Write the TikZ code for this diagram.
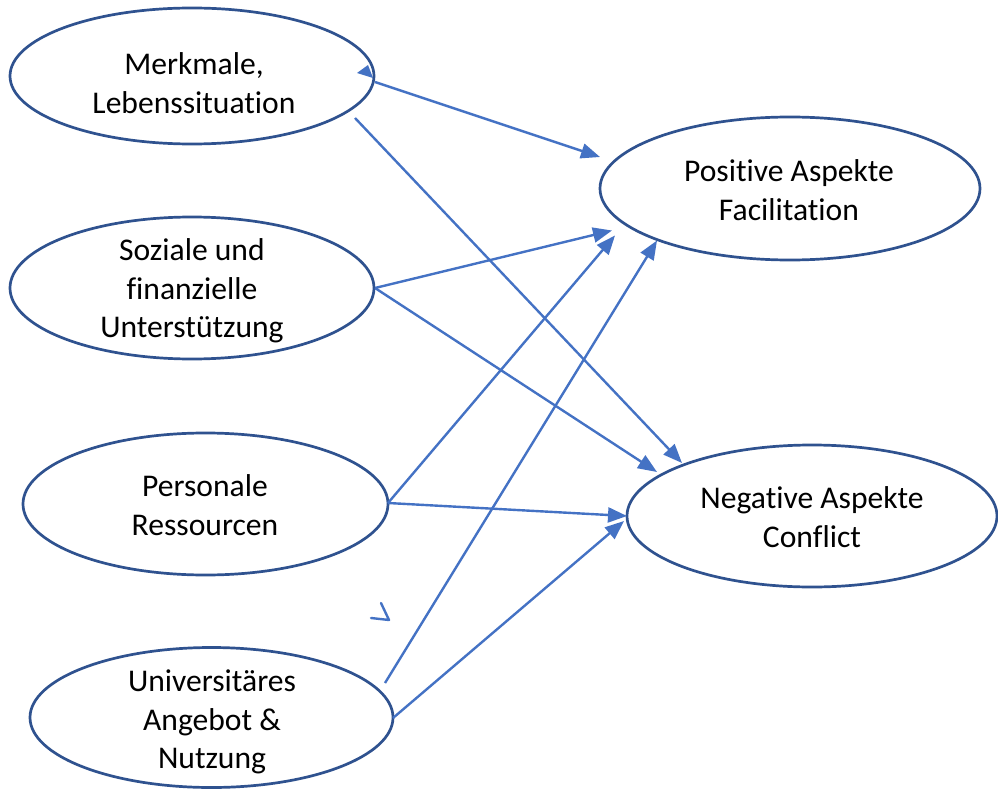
\documentclass[tikz,border=0pt]{standalone}
\usepackage{fontspec}
\setmainfont{Carlito}[RawFeature={-liga;-clig;-calt;-dlig;-rlig}]
\usetikzlibrary{shapes.geometric,arrows.meta}
\definecolor{ringblue}{HTML}{2F528F}
\definecolor{linkblue}{HTML}{4472C4}
\tikzset{
  oval/.style={ellipse, draw=ringblue, line width=2.7pt, fill=white, inner sep=0pt,
               minimum width=#1},
  txt/.style={align=center, inner sep=0pt, font=\fontsize{31.6}{38.5}\selectfont},
  link/.style={draw=linkblue, line width=2.4pt, -{Triangle[length=19pt,width=15pt]}},
}
\begin{document}
\begin{tikzpicture}[x=1pt,y=-1pt]
\useasboundingbox (0,0) rectangle (998,789);
% ellipses
\node[oval=364pt, minimum height=136pt] (m)   at (192,76)    {};
\node[oval=364pt, minimum height=142pt] (s)   at (192,288)   {};
\node[oval=365pt, minimum height=142pt] (p)   at (205.5,504) {};
\node[oval=363pt, minimum height=140pt] (u)   at (211.5,717.5) {};
\node[oval=380pt, minimum height=143pt] (pos) at (790,188.5) {};
\node[oval=370pt, minimum height=142pt] (neg) at (812,516)   {};
% texts
\node[txt] (mt)   at (194,83)  {Merkmale,\\Lebenssituation};
\node[txt] (st)   at (192,291) {Soziale und\\finanzielle\\Unterstützung};
\node[txt] (pt)   at (205,505) {Personale\\Ressourcen};
\node[txt] (ut)   at (212,722) {Universitäres\\Angebot \&\\Nutzung};
\node[txt] (post) at (789,190) {Positive Aspekte\\Facilitation};
\node[txt] (negt) at (812,517) {Negative Aspekte\\Conflict};
% connectors
\draw[link] ([shift={(183,6)}]m.center)      -- ([shift={(-190,-31.5)}]pos.center);
\draw[link] ([shift={(163,42)}]m.center)     -- ([shift={(-130,-53)}]neg.center);
\draw[link] ([shift={(183,0)}]s.center)      -- ([shift={(-178,42)}]pos.center);
\draw[link] ([shift={(183,0)}]s.center)      -- ([shift={(-155,-44)}]neg.center);
\draw[link] ([shift={(182.5,-1)}]p.center)   -- ([shift={(-175,47)}]pos.center);
\draw[link] ([shift={(182.5,-1)}]p.center)   -- ([shift={(-185,0)}]neg.center);
\draw[link] ([shift={(173.5,-34.5)}]u.center) -- ([shift={(-133,52)}]pos.center);
\draw[link] ([shift={(181.5,0.5)}]u.center)  -- ([shift={(-188,5)}]neg.center);
% stray marks
\fill[linkblue] ([shift={(165,-3)}]m.center) -- ([shift={(176,-11)}]m.center) -- ([shift={(181,2)}]m.center) -- cycle;
\draw[linkblue, line width=2.4pt, line join=round, line cap=round]
  ([shift={(169.5,-114.5)}]u.center) -- ([shift={(177.5,-97.5)}]u.center) -- ([shift={(159.5,-99.5)}]u.center);
\end{tikzpicture}
\end{document}
